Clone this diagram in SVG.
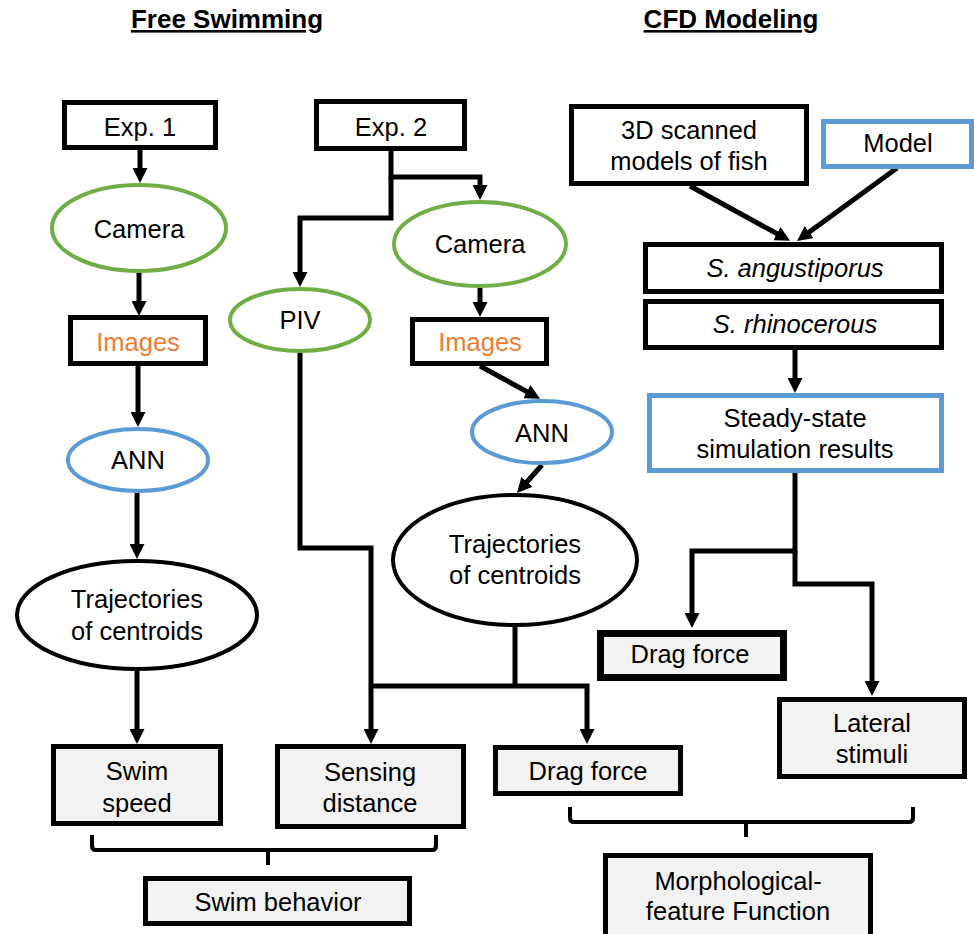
<svg xmlns="http://www.w3.org/2000/svg" width="974" height="934" viewBox="0 0 974 934">
<style>
text{font-family:"Liberation Sans",Arial,sans-serif;font-size:25.5px;fill:#000;text-anchor:middle}
.title{font-weight:bold;font-size:26px;text-decoration:underline}
.it{font-style:italic}
.orange{fill:#ED7D31}
.box{fill:#fff;stroke:#000;stroke-width:5}
.gbox{fill:#F2F2F2;stroke:#000;stroke-width:5}
.bbox{fill:#fff;stroke:#5B9BD5;stroke-width:5}
.ge{fill:#fff;stroke:#70AD47;stroke-width:4}
.be{fill:#fff;stroke:#5B9BD5;stroke-width:4}
.ke{fill:#fff;stroke:#000;stroke-width:4}
.c{fill:none;stroke:#000;stroke-width:5;stroke-linejoin:miter}
.a{marker-end:url(#ah)}
.br{fill:none;stroke:#000;stroke-width:4;stroke-linejoin:round}
</style>
<defs>
<marker id="ah" viewBox="0 0 10 10" markerWidth="15" markerHeight="15" markerUnits="userSpaceOnUse" refX="4.67" refY="5" orient="auto">
<path d="M0,0 L10,5 L0,10 z" fill="#000"/>
</marker>
</defs>
<rect width="974" height="934" fill="#fff"/>
<g id="titles">
<text class="title" x="227" y="28">Free Swimming</text>
<text class="title" x="731" y="28">CFD Modeling</text>
</g>
<g id="connectors">
<path class="c a" d="M140,150 L140,175"/>
<path class="c a" d="M139,273 L139,308"/>
<path class="c a" d="M138,366 L138,419"/>
<path class="c a" d="M137,493 L137,551"/>
<path class="c a" d="M137,671 L137,736"/>
<path class="c a" d="M391,151 L391,177 L480,177 L480,192"/>
<path class="c a" d="M391,177 L391,218 L300,218 L300,279"/>
<path class="c a" d="M480,288 L480,309"/>
<path class="c a" d="M480,366 L533,395"/>
<path class="c a" d="M542,465 L522.3,487"/>
<path class="c a" d="M300,353 L300,548 L371,548 L371,736"/>
<path class="c" d="M515,627 L515,686"/>
<path class="c a" d="M371,686 L587,686 L587,736"/>
<path class="c a" d="M690,186 L783,237"/>
<path class="c a" d="M897,168 L803.5,236.3"/>
<path class="c a" d="M795,350 L795,385"/>
<path class="c a" d="M795,473 L795,551 L692,551 L692,620"/>
<path class="c a" d="M795,551 L795,584 L872,584 L872,688"/>
<path class="br" d="M92,835 L92,846 Q92,850 96,850 L432,850 Q436,850 436,846 L436,835"/>
<path class="br" d="M268,850 L268,865"/>
<path class="br" d="M570,807 L570,818 Q570,822 574,822 L909,822 Q913,822 913,818 L913,807"/>
<path class="br" d="M746,822 L746,837"/>
</g>
<g id="exp1"><rect class="box" x="64.5" y="102.5" width="151" height="45"/><text x="140" y="136">Exp. 1</text></g>
<g id="camera1"><ellipse class="ge" cx="139" cy="228" rx="87" ry="43"/><text x="139" y="238">Camera</text></g>
<g id="images1"><rect class="box" x="70.5" y="317.5" width="135" height="46"/><text class="orange" x="138" y="351">Images</text></g>
<g id="ann1"><ellipse class="be" cx="138" cy="460" rx="70" ry="31"/><text x="138" y="469">ANN</text></g>
<g id="traj1"><ellipse class="ke" cx="137" cy="615" rx="120" ry="54"/><text x="137" y="608">Trajectories</text><text x="137" y="640">of centroids</text></g>
<g id="swimspeed"><rect class="gbox" x="53.5" y="746.5" width="167" height="77"/><text x="137" y="780">Swim</text><text x="137" y="812">speed</text></g>
<g id="exp2"><rect class="box" x="316.5" y="101.5" width="148" height="47"/><text x="391" y="136">Exp. 2</text></g>
<g id="piv"><ellipse class="ge" cx="300" cy="320" rx="70" ry="31"/><text x="300" y="329">PIV</text></g>
<g id="camera2"><ellipse class="ge" cx="480" cy="244" rx="86" ry="42"/><text x="480" y="253">Camera</text></g>
<g id="images2"><rect class="box" x="412.5" y="319.5" width="134" height="44"/><text class="orange" x="480" y="351">Images</text></g>
<g id="ann2"><ellipse class="be" cx="542" cy="432" rx="70" ry="31"/><text x="542" y="442">ANN</text></g>
<g id="traj2"><ellipse class="ke" cx="515" cy="560" rx="122" ry="65"/><text x="515" y="553">Trajectories</text><text x="515" y="584">of centroids</text></g>
<g id="sensing"><rect class="gbox" x="277.5" y="746.5" width="186" height="80"/><text x="370" y="781">Sensing</text><text x="370" y="812">distance</text></g>
<g id="drag1"><rect class="gbox" x="495.5" y="747.5" width="185" height="46"/><text x="588" y="780">Drag force</text></g>
<g id="swimbehavior"><rect class="gbox" x="145.5" y="878.5" width="264" height="45"/><text x="278" y="911">Swim behavior</text></g>
<g id="scanned"><rect class="box" x="571.5" y="106.5" width="235" height="77"/><text x="689" y="139">3D scanned</text><text x="689" y="170">models of fish</text></g>
<g id="model"><rect class="bbox" x="823.5" y="121.5" width="148" height="45"/><text x="898" y="152">Model</text></g>
<g id="sang"><rect class="box" x="645.5" y="244.5" width="296" height="47"/><text class="it" x="795" y="277">S. angustiporus</text></g>
<g id="srhino"><rect class="box" x="645.5" y="301.5" width="296" height="46"/><text class="it" x="795" y="333">S. rhinocerous</text></g>
<g id="steady"><rect class="bbox" x="649.5" y="395.5" width="292" height="75"/><text x="795" y="427">Steady-state</text><text x="795" y="458">simulation results</text></g>
<g id="drag2"><rect class="gbox" x="600.5" y="633.5" width="183" height="44" style="stroke-width:7"/><text x="690" y="663">Drag force</text></g>
<g id="lateral"><rect class="gbox" x="779.5" y="699.5" width="185" height="77"/><text x="872" y="732">Lateral</text><text x="872" y="763">stimuli</text></g>
<g id="morph"><rect class="gbox" x="605.5" y="855.5" width="265" height="90"/><text x="738" y="890">Morphological-</text><text x="738" y="920">feature Function</text></g>
</svg>
